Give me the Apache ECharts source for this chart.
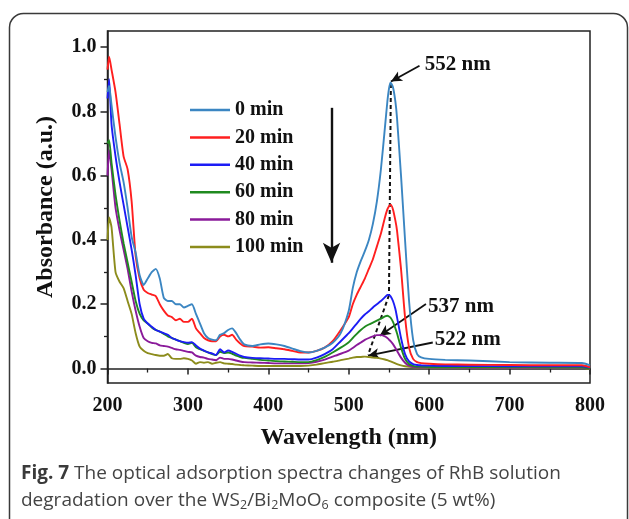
<!DOCTYPE html>
<html><head><meta charset="utf-8">
<script src="https://cdn.jsdelivr.net/npm/echarts@6/dist/echarts.min.js"></script>
<style>html,body{margin:0;padding:0;background:#fff}#c{width:629px;height:519px}</style>
</head><body><div id="c"></div><script>
// ---- data ----
const wavelengths = [200,202,205,210,215,220,225,230,235,240,
  245,250,255,260,265,270,275,280,285,290,
  295,300,305,310,315,320,325,330,335,340,
  345,350,355,360,365,370,380,390,400,410,
  420,430,440,450,460,470,480,490,500,505,
  510,515,520,525,530,535,540,545,548,550,
  552,555,558,560,565,570,575,580,585,590,
  600,620,650,700,750,790,800];
const min0 = [0.86,0.88,0.82,0.72,0.64,0.58,0.50,0.41,0.36,0.29,
  0.26,0.28,0.30,0.31,0.28,0.22,0.21,0.21,0.20,0.20,
  0.19,0.195,0.20,0.17,0.14,0.11,0.095,0.09,0.088,0.105,
  0.11,0.12,0.125,0.11,0.09,0.075,0.07,0.075,0.078,0.075,
  0.07,0.062,0.054,0.05,0.055,0.065,0.08,0.11,0.18,0.25,
  0.30,0.335,0.365,0.40,0.45,0.52,0.62,0.75,0.83,0.87,
  0.89,0.875,0.83,0.78,0.60,0.40,0.21,0.09,0.045,0.035,
  0.03,0.027,0.025,0.02,0.018,0.017,0.01];
const min20 = [0.93,0.97,0.93,0.86,0.76,0.66,0.62,0.52,0.35,0.28,
  0.245,0.235,0.23,0.225,0.20,0.18,0.165,0.16,0.15,0.155,
  0.145,0.145,0.155,0.125,0.11,0.095,0.088,0.085,0.085,0.10,
  0.105,0.10,0.105,0.09,0.078,0.07,0.068,0.065,0.066,0.063,
  0.06,0.055,0.05,0.05,0.055,0.065,0.085,0.12,0.16,0.20,
  0.23,0.255,0.28,0.31,0.34,0.38,0.42,0.47,0.495,0.505,
  0.51,0.495,0.46,0.43,0.31,0.16,0.065,0.03,0.02,0.017,
  0.015,0.013,0.012,0.011,0.01,0.01,0.004];
const min40 = [0.84,0.90,0.76,0.66,0.58,0.51,0.44,0.37,0.29,0.20,
  0.155,0.14,0.13,0.12,0.115,0.11,0.105,0.095,0.09,0.085,
  0.082,0.08,0.082,0.072,0.062,0.056,0.05,0.047,0.042,0.06,
  0.05,0.056,0.052,0.046,0.04,0.036,0.033,0.032,0.031,0.03,
  0.03,0.029,0.028,0.028,0.034,0.045,0.06,0.085,0.11,0.125,
  0.14,0.155,0.168,0.178,0.19,0.20,0.21,0.222,0.229,0.229,
  0.225,0.21,0.185,0.16,0.095,0.045,0.022,0.014,0.011,0.01,
  0.009,0.008,0.008,0.007,0.007,0.007,0.003];
const min60 = [0.70,0.71,0.64,0.54,0.46,0.39,0.33,0.27,0.21,0.17,
  0.15,0.14,0.128,0.12,0.115,0.108,0.10,0.095,0.09,0.085,
  0.08,0.076,0.08,0.066,0.06,0.055,0.05,0.045,0.042,0.052,
  0.048,0.05,0.046,0.04,0.036,0.033,0.03,0.027,0.025,0.023,
  0.022,0.021,0.02,0.02,0.026,0.036,0.05,0.065,0.082,0.095,
  0.108,0.12,0.13,0.137,0.143,0.149,0.155,0.162,0.164,0.162,
  0.158,0.145,0.125,0.11,0.065,0.03,0.014,0.008,0.006,0.006,
  0.005,0.005,0.005,0.005,0.004,0.004,0.0];
const min80 = [0.60,0.68,0.62,0.50,0.43,0.37,0.31,0.24,0.18,0.13,
  0.095,0.085,0.08,0.078,0.072,0.07,0.068,0.064,0.06,0.058,
  0.055,0.052,0.05,0.04,0.036,0.034,0.03,0.028,0.026,0.034,
  0.03,0.03,0.028,0.025,0.022,0.02,0.019,0.018,0.017,0.016,
  0.016,0.016,0.016,0.017,0.021,0.028,0.037,0.046,0.056,0.064,
  0.073,0.081,0.089,0.095,0.10,0.104,0.104,0.10,0.095,0.09,
  0.085,0.076,0.064,0.055,0.034,0.018,0.009,0.005,0.004,0.004,
  0.004,0.004,0.003,0.003,0.003,0.003,0.0];
const min100 = [0.40,0.47,0.44,0.30,0.27,0.25,0.21,0.17,0.11,0.068,
  0.055,0.048,0.045,0.042,0.04,0.04,0.045,0.032,0.03,0.03,
  0.032,0.03,0.025,0.015,0.02,0.018,0.02,0.015,0.018,0.02,
  0.016,0.015,0.014,0.012,0.011,0.01,0.009,0.008,0.008,0.008,
  0.008,0.008,0.008,0.009,0.012,0.017,0.021,0.026,0.031,0.034,
  0.036,0.036,0.037,0.036,0.034,0.033,0.031,0.028,0.026,0.024,
  0.022,0.019,0.016,0.014,0.01,0.007,0.005,0.004,0.003,0.003,
  0.003,0.003,0.003,0.002,0.002,0.002,-0.002];
const seriesNames = ['0 min','20 min','40 min','60 min','80 min','100 min'];
const seriesValues = [min0, min20, min40, min60, min80, min100];
const seriesColors = ['#3b86c2','#ff1f1f','#1c1cf5','#1f8a1f','#8a1a9a','#8c8c1c'];
const yMajorTicks = [0,0.2,0.4,0.6,0.8,1.0];
const yMinorTicks = [0.1,0.3,0.5,0.7,0.9];
const peakLabels = ['552 nm','537 nm','522 nm'];

// ---- chart ----
const serif = 'Liberation Serif';
const chart = echarts.init(document.getElementById('c'), null, {renderer:'canvas'});
const lineSeries = seriesNames.map((n,i)=>({
  name:n, type:'line', yAxisIndex:0, showSymbol:false, symbol:'none', smooth:0.2,
  lineStyle:{color:seriesColors[i], width:1.9}, itemStyle:{color:seriesColors[i]},
  data: wavelengths.map((w,j)=>[w, seriesValues[i][j]]), z: 10 - i
}));
const arrowLabel = (coord, text) => ({
  coord, symbol:'circle', symbolSize:0,
  label:{show:true, position:'right', distance:0, formatter:text,
    fontFamily:serif, fontWeight:'bold', fontSize:21, color:'#111'}
});
const annot = {
  name:'annot', type:'line', data:[], yAxisIndex:0, silent:true, z:20,
  markLine:{
    silent:true, animation:false, symbol:['none','arrow'], symbolSize:[8,11],
    label:{show:false},
    lineStyle:{color:'#111', width:1.8, type:'solid'},
    data:[
      [{coord:[588,0.942]},{coord:[552.5,0.893]}],
      [{coord:[596,0.201]},{coord:[538.5,0.102]}],
      [{coord:[604.5,0.081]},{coord:[524,0.040]}],
      [{coord:[478.6,0.811], lineStyle:{width:2.4}},{coord:[478.6,0.329], symbolSize:[13,20]}],
      [{coord:[552.4,0.885], symbol:'none', lineStyle:{type:[4,3], width:2}},{coord:[550,0.228], symbol:'none'}],
      [{coord:[550,0.228], symbol:'none', lineStyle:{type:[4,3], width:2}},{coord:[524,0.042], symbol:'none'}]
    ]
  },
  markPoint:{
    silent:true, animation:false,
    data:[
      arrowLabel([594.5,0.945], peakLabels[0]),
      arrowLabel([598.5,0.194], peakLabels[1]),
      arrowLabel([607,0.090], peakLabels[2])
    ]
  }
};
const option = {
  animation:false,
  backgroundColor:'#fff',
  grid:{left:107.5, right:39, top:31, bottom:136, show:true, borderColor:'#222', borderWidth:1.5, containLabel:false},
  legend:{
    data:seriesNames, orient:'vertical', left:190, top:100, padding:0,
    itemWidth:40, itemHeight:2.5, itemGap:7.4, icon:'rect',
    textStyle:{fontFamily:serif, fontWeight:'bold', fontSize:20, color:'#111', lineHeight:20}
  },
  xAxis:{
    type:'value', min:200, max:800, interval:100,
    name:'Wavelength (nm)', nameLocation:'middle', nameGap:43,
    nameTextStyle:{fontFamily:serif, fontWeight:'bold', fontSize:24, color:'#111'},
    axisLine:{lineStyle:{color:'#222', width:1.5}},
    axisTick:{show:true, inside:false, length:6, lineStyle:{color:'#222', width:1.5}},
    minorTick:{show:true, splitNumber:2, length:4, lineStyle:{color:'#222', width:1.3}},
    axisLabel:{fontFamily:serif, fontWeight:'bold', fontSize:20, color:'#111', margin:13},
    splitLine:{show:false}
  },
  yAxis:[{
    type:'value', min:-0.045, max:1.05, position:'left',
    name:'Absorbance (a.u.)', nameLocation:'middle', nameGap:50, nameRotate:90,
    nameTextStyle:{fontFamily:serif, fontWeight:'bold', fontSize:24, color:'#111'},
    axisLine:{show:true, lineStyle:{color:'#222', width:1.5}},
    axisTick:{show:true, length:7, customValues:yMajorTicks, lineStyle:{color:'#222', width:1.5}},
    axisLabel:{customValues:yMajorTicks, formatter:v=>v.toFixed(1), fontFamily:serif, fontWeight:'bold', fontSize:20, color:'#111', margin:11},
    splitLine:{show:false}
  },{
    type:'value', min:-0.045, max:1.05, position:'left', offset:0,
    axisLine:{show:false},
    axisTick:{show:true, length:3.5, customValues:yMinorTicks, lineStyle:{color:'#222', width:1.3}},
    axisLabel:{show:false, customValues:yMinorTicks},
    splitLine:{show:false}
  }],
  series:[...lineSeries, annot],
  graphic:[
    {type:'rect', silent:true, z:-10, shape:{x:9.5, y:13.5, width:618, height:540, r:14},
      style:{fill:'none', stroke:'#3a3a3a', lineWidth:1.5}},
    {type:'text', silent:true, left:21, top:464, style:{
      text:'{b|Fig. 7} The optical adsorption spectra changes of RhB solution',
      fontFamily:'Open Sans', fontSize:19, fill:'#444',
      rich:{b:{fontFamily:'Open Sans', fontWeight:'bold', fontSize:19, fill:'#3a3a3a'}}}},
    {type:'text', silent:true, left:21, top:491, style:{
      text:'degradation over the WS{s|2}/Bi{s|2}MoO{s|6} composite (5 wt%)',
      fontFamily:'Open Sans', fontSize:19, fill:'#444',
      rich:{s:{fontFamily:'Open Sans', fontSize:12.5, fill:'#444', padding:[9,0,0,0]}}}}
  ]
};
chart.setOption(option);
</script></body></html>
